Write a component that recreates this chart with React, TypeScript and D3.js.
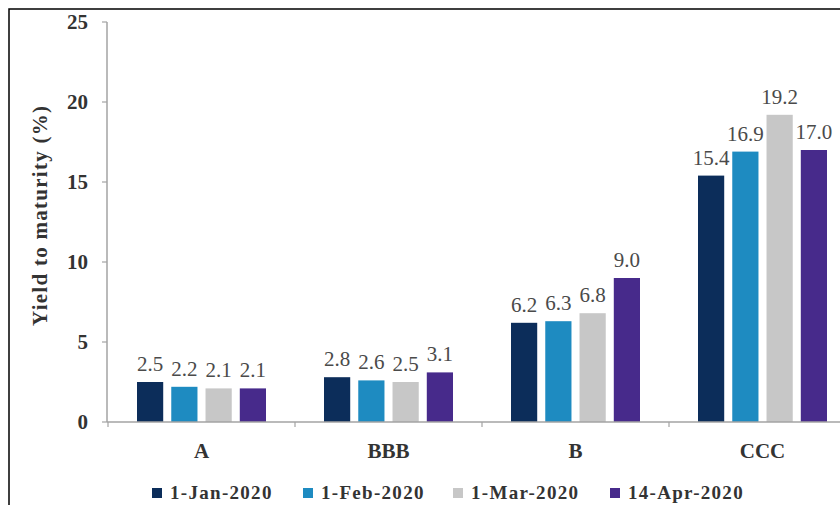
import React from "react";
import * as d3 from "d3";

const categories = ["A", "BBB", "B", "CCC"];
const seriesNames = ["1-Jan-2020", "1-Feb-2020", "1-Mar-2020", "14-Apr-2020"];
const jan = [2.5, 2.8, 6.2, 15.4];
const feb = [2.2, 2.6, 6.3, 16.9];
const mar = [2.1, 2.5, 6.8, 19.2];
const apr = [2.1, 3.1, 9.0, 17.0];
const yTicks = [0, 5, 10, 15, 20, 25];
const colors = ["#0c2d5a", "#1e8bc1", "#c7c7c7", "#472a8b"];

const series = [jan, feb, mar, apr];

export default function App() {
  const W = 840, H = 505;
  const left = 108, right = 856, top = 22, bottom = 422;
  const groupW = 129;
  const x = d3.scaleBand<string>().domain(categories).range([left, right]);
  const xInner = d3.scaleBand<number>().domain([0, 1, 2, 3]).range([0, groupW]).paddingInner(0.235);
  const y = d3.scaleLinear().domain([0, 25]).range([bottom, top]);
  const groupOffset = (x.bandwidth() - groupW) / 2;
  const serif = "'Liberation Serif', 'Times New Roman', serif";
  const axisColor = "#a3a3a3";
  const legendX = [152, 303, 453, 610];

  return (
    <svg width={W} height={H} style={{ position: "absolute", left: 0, top: 0, background: "#fff" }}>
      <rect x={9} y={9} width={W + 20} height={H + 20} fill="#fff" stroke="#000" strokeWidth={1.5} />
      {/* y axis */}
      <line x1={left - 1} x2={left - 1} y1={top} y2={bottom} stroke={axisColor} strokeWidth={1.5} />
      {yTicks.map((t) => (
        <g key={t}>
          <line x1={left - 6} x2={left - 1} y1={y(t)} y2={y(t)} stroke={axisColor} strokeWidth={1.2} />
          <text x={88} y={y(t)} dy="0.35em" textAnchor="end" fontFamily={serif} fontWeight="bold" fontSize={21} fill="#333">
            {t}
          </text>
        </g>
      ))}
      <text
        transform={`translate(47,${(top + bottom) / 2 - 6}) rotate(-90)`}
        textAnchor="middle"
        fontFamily={serif}
        fontWeight="bold"
        fontSize={21}
        fill="#333"
        textLength={220}
        lengthAdjust="spacing"
      >
        Yield to maturity (%)
      </text>
      {/* bars */}
      {categories.map((c, ci) => (
        <g key={c}>
          {series.map((s, si) => {
            const bx = (x(c) as number) + groupOffset + (xInner(si) as number);
            const bw = xInner.bandwidth();
            return (
              <g key={si}>
                <rect x={bx} y={y(s[ci])} width={bw} height={bottom - y(s[ci])} fill={colors[si]} />
                <text x={bx + bw / 2} y={y(s[ci]) - 11} textAnchor="middle" fontFamily={serif} fontSize={21} fill="#4a4a4a">
                  {s[ci].toFixed(1)}
                </text>
              </g>
            );
          })}
          <text x={(x(c) as number) + x.bandwidth() / 2} y={458} textAnchor="middle" fontFamily={serif} fontWeight="bold" fontSize={21} fill="#333">
            {c}
          </text>
        </g>
      ))}
      {/* x axis */}
      <line x1={left - 1} x2={W} y1={bottom} y2={bottom} stroke={axisColor} strokeWidth={1.5} />
      {categories.map((c) => (
        <line key={c} x1={x(c) as number} x2={x(c) as number} y1={bottom} y2={bottom + 5} stroke={axisColor} strokeWidth={1.2} />
      ))}
      <line x1={right} x2={right} y1={bottom} y2={bottom + 5} stroke={axisColor} strokeWidth={1.2} />
      {/* legend */}
      {seriesNames.map((n, i) => (
        <g key={n}>
          <rect x={legendX[i]} y={488} width={10} height={10} fill={colors[i]} />
          <text x={legendX[i] + 18} y={499} fontFamily={serif} fontWeight="bold" fontSize={19} letterSpacing={1.3} fill="#333">
            {n}
          </text>
        </g>
      ))}
    </svg>
  );
}
